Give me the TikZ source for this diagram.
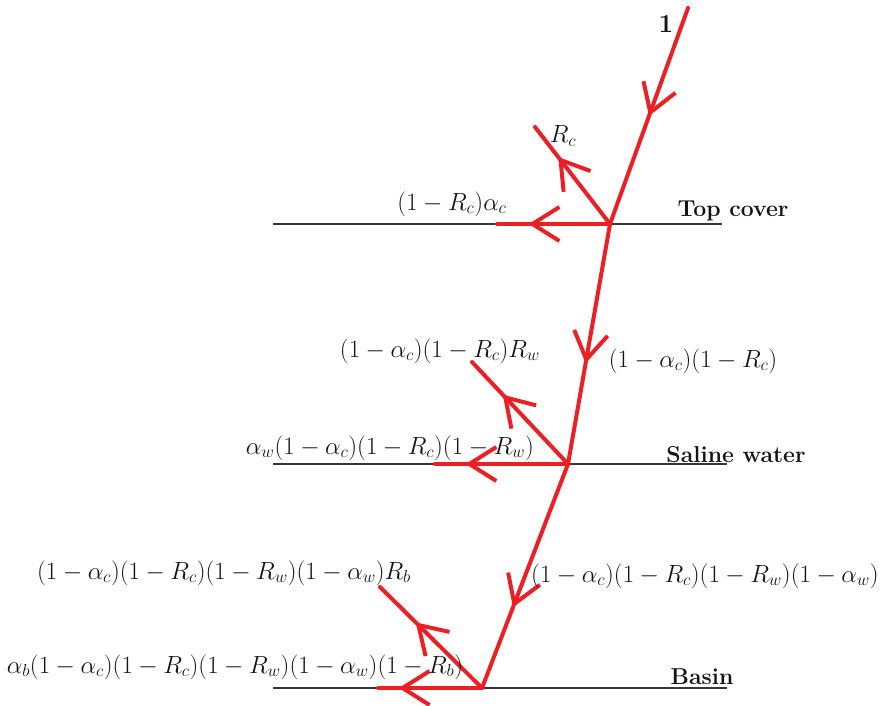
\documentclass[tikz,border=0pt]{standalone}
\usetikzlibrary{arrows.meta,decorations.markings}
\definecolor{rayred}{RGB}{236,32,36}
\definecolor{surf}{RGB}{55,55,55}
\definecolor{ink}{RGB}{20,20,20}
\tikzset{
  ray/.style={draw=rayred, color=rayred, line width=4pt, line cap=round},
  midarrow/.style={postaction={decorate}, decoration={markings, mark=at position #1 with {\arrow{Straight Barb[length=27pt,width=34pt,line width=4pt]}}}},
  surface/.style={draw=surf, line width=1.6pt},
  lab/.style={font=\fontsize{24}{28}\selectfont, inner sep=0pt, text=ink},
  boldlab/.style={font=\fontsize{23}{27}\selectfont\bfseries, inner sep=0pt, text=ink},
}
\begin{document}
\begin{tikzpicture}[x=1pt,y=-1pt]
\useasboundingbox (0,0) rectangle (880,706);
% points
\coordinate (src) at (688,8);
\coordinate (T) at (610,224);
\coordinate (S) at (568,464);
\coordinate (B) at (482,688);
\coordinate (Tr) at (535,127);
\coordinate (Ta) at (497,224);
\coordinate (Sr) at (472,362);
\coordinate (Sa) at (435,464);
\coordinate (Br) at (380,587);
\coordinate (Ba) at (378,688);
\coordinate (topL) at (273,224);
\coordinate (topR) at (722,224);
\coordinate (salL) at (273,464);
\coordinate (salR) at (727,464);
\coordinate (basL) at (273,688);
\coordinate (basR) at (727,688);
% surfaces
\draw[surface] (topL) -- (topR);
\draw[surface] (salL) -- (salR);
\draw[surface] (basL) -- (basR);
% rays
\draw[ray, midarrow=0.5] (src) -- (T);
\draw[ray, midarrow=0.69] (T) -- (Tr);
\draw[ray, midarrow=0.72] (T) -- (Ta);
\draw[ray, midarrow=0.58] (T) -- (S);
\draw[ray, midarrow=0.68] (S) -- (Sr);
\draw[ray, midarrow=0.77] (S) -- (Sa);
\draw[ray, midarrow=0.64] (S) -- (B);
\draw[ray, midarrow=0.65] (B) -- (Br);
\draw[ray, midarrow=0.8] (B) -- (Ba);
% labels
\node[boldlab, font=\fontsize{26}{30}\selectfont\bfseries] (one) at (666,24) {1};
\node[lab] (lRc) at (563,136) {$R_c$};
\node[lab] (lAc) at (452,204) {$(1-R_c)\alpha_c$};
\node[boldlab] (ltop) at (733,211) {Top cover};
\node[lab] (lTr1) at (693,361) {$(1-\alpha_c)(1-R_c)$};
\node[lab] (lRw) at (440,351) {$(1-\alpha_c)(1-R_c)R_w$};
\node[lab] (lAw) at (390,448) {$\alpha_w(1-\alpha_c)(1-R_c)(1-R_w)$};
\node[boldlab] (lsal) at (736,455) {Saline water};
\node[lab] (lTr2) at (705,576) {$(1-\alpha_c)(1-R_c)(1-R_w)(1-\alpha_w)$};
\node[lab] (lRb) at (224,573) {$(1-\alpha_c)(1-R_c)(1-R_w)(1-\alpha_w)R_b$};
\node[lab] (lAb) at (235,667) {$\alpha_b(1-\alpha_c)(1-R_c)(1-R_w)(1-\alpha_w)(1-R_b)$};
\node[boldlab] (lbas) at (702,677) {Basin};
\end{tikzpicture}
\end{document}
